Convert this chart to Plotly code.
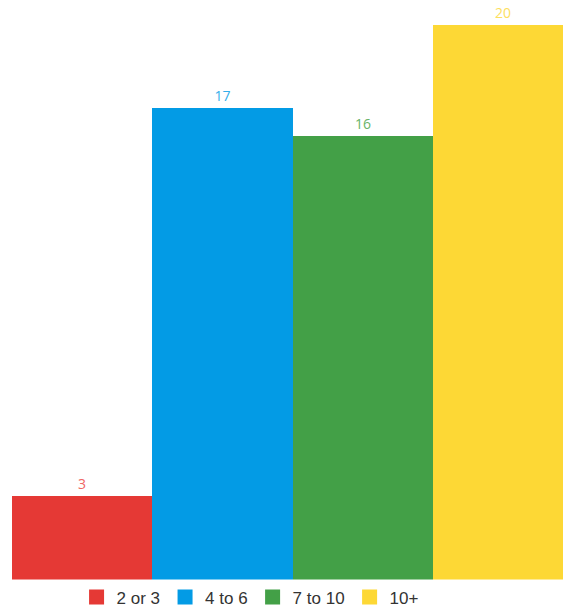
import plotly.graph_objects as go

# Group sizes and their counts
categories = ["2 or 3", "4 to 6", "7 to 10", "10+"]
counts = [3, 17, 16, 20]
bar_colors = ["#E53935", "#039BE5", "#43A047", "#FDD835"]
label_colors = ["#EF6664", "#35AEEA", "#68B368", "#FDE05E"]

fig = go.Figure()

for i, (name, value) in enumerate(zip(categories, counts)):
    # the bar itself, with its value printed above it
    fig.add_trace(go.Bar(
        x=[i],
        y=[value],
        width=1,
        name=name,
        marker=dict(color=bar_colors[i], line=dict(width=0)),
        text=[str(value)],
        textposition="outside",
        constraintext="none",
        textfont=dict(family="Open Sans", size=14, color=label_colors[i]),
        cliponaxis=False,
        showlegend=False,
        hoverinfo="skip",
    ))
    # legend entry with a larger square swatch
    fig.add_trace(go.Scatter(
        x=[None],
        y=[None],
        mode="markers",
        name=name,
        marker=dict(symbol="square", size=15, color=bar_colors[i]),
        showlegend=True,
    ))

fig.update_layout(
    width=563,
    height=613,
    margin=dict(l=12, r=0, t=0, b=32),
    paper_bgcolor="white",
    plot_bgcolor="white",
    barmode="overlay",
    bargap=0,
    xaxis=dict(
        range=[-0.5, 3.427],
        visible=False,
        showgrid=False,
        zeroline=False,
        fixedrange=True,
    ),
    yaxis=dict(
        range=[0, 20.9],
        visible=False,
        showgrid=False,
        zeroline=False,
        fixedrange=True,
    ),
    legend=dict(
        orientation="h",
        xref="container",
        yref="container",
        x=0.136,
        xanchor="left",
        y=1 - 597.5 / 613,
        yanchor="middle",
        font=dict(family="Liberation Sans", size=17, color="#333333"),
        itemclick=False,
        itemdoubleclick=False,
        tracegroupgap=0,
    ),
    showlegend=True,
)

fig.write_html("out.html", config={"displayModeBar": False})
